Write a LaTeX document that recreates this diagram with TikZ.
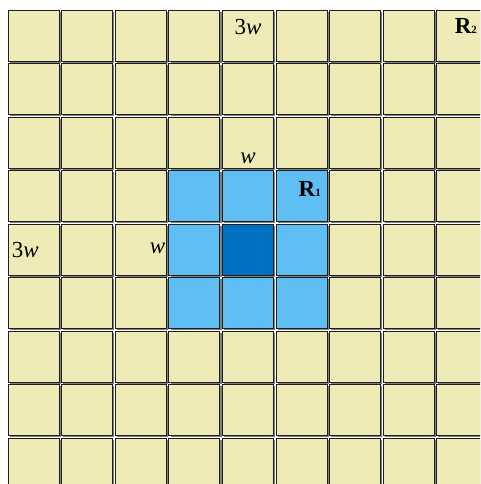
\documentclass[tikz,border=0pt]{standalone}
\usepackage{fontspec}
\setmainfont{Liberation Serif}
\usetikzlibrary{shadows}
\definecolor{cellyellow}{HTML}{EFEBB6}
\definecolor{celllight}{HTML}{5EBDF2}
\definecolor{celldark}{HTML}{0070C0}
\tikzset{
  cell/.style={draw=black!88, line width=1pt, minimum size=51pt, inner sep=0pt,
    fill=cellyellow, general shadow={fill=black!50, shadow xshift=1.6pt, shadow yshift=-1.6pt}},
  lightcell/.style={cell, fill=celllight},
  darkcell/.style={cell, fill=celldark},
  wlabel/.style={inner sep=0pt, font=\fontsize{23}{23}\selectfont},
  rlabel/.style={inner sep=0pt, font=\fontsize{23}{23}\selectfont\bfseries},
}
\newcommand{\smallsub}[1]{{\fontsize{11}{11}\selectfont #1}}
\begin{document}
\begin{tikzpicture}[x=1pt,y=1pt]
\useasboundingbox[fill=white] (0,0) rectangle (480,-484);
\begin{scope}
\clip (0,0) rectangle (480,-484);
\foreach \i in {0,...,8}{
  \foreach \j in {0,...,8}{
    \node[cell] (c-\i-\j) at ({33.75+53.55*\i},{-(35.75+53.5*\j)}) {};
  }
}
\foreach \i in {3,4,5}{
  \foreach \j in {3,4,5}{
    \node[lightcell] (b-\i-\j) at ({33.75+53.55*\i},{-(35.75+53.5*\j)}) {};
  }
}
\node[darkcell] (center) at ({33.75+53.55*4},{-(35.75+53.5*4)}) {};
% labels
\node[wlabel] (t3wtop) at ([yshift=9pt]c-4-0.center) {3\textit{w}};
\node[rlabel, anchor=base west] (tR2) at ([xshift=18.5pt,yshift=-24pt]c-8-0.north west) {R\smallsub{2}};
\node[wlabel, anchor=south] (twtop) at ([yshift=4.5pt]c-4-2.south) {\textit{w}};
\node[rlabel, anchor=base west] (tR1) at ([xshift=23pt,yshift=-26pt]b-5-3.north west) {R\smallsub{1}};
\node[wlabel, anchor=west] (t3wleft) at ([xshift=4pt]c-0-4.west) {3\textit{w}};
\node[wlabel, anchor=east] (twleft) at ([xshift=-1.5pt,yshift=1pt]c-2-4.east) {\textit{w}};
\end{scope}
\end{tikzpicture}
\end{document}
